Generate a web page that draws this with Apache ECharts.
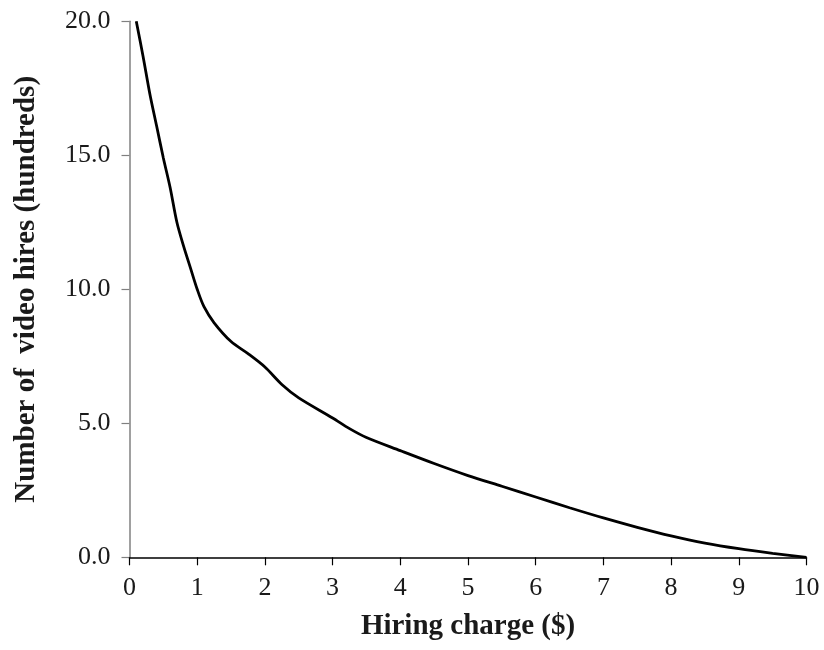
<!DOCTYPE html>
<html>
<head>
<meta charset="utf-8">
<script src="https://cdn.jsdelivr.net/npm/echarts@6/dist/echarts.min.js"></script>
<style>html,body{margin:0;padding:0;background:#fff;}#c{width:824px;height:650px;}</style>
</head>
<body>
<div id="c"></div>
<script>
// Hiring charge ($)
const charge = [0.1, 0.2, 0.3, 0.4, 0.5, 0.6, 0.7, 0.8, 0.9, 1.0, 1.1, 1.25, 1.5, 1.75, 2.0, 2.25, 2.5, 3.0, 3.25, 3.5, 4.0, 4.5, 5.0, 5.5, 6.0, 6.5, 7.0, 7.5, 8.0, 8.5, 9.0, 9.5, 10.0];
// Number of video hires (hundreds)
const hires = [20.0, 18.7, 17.3, 16.1, 14.9, 13.8, 12.5, 11.6, 10.8, 10.0, 9.35, 8.75, 8.05, 7.6, 7.1, 6.45, 5.95, 5.2, 4.8, 4.47, 3.98, 3.5, 3.05, 2.65, 2.25, 1.85, 1.47, 1.12, 0.8, 0.53, 0.32, 0.15, 0.0];
const xTitle = 'Hiring charge ($)';
const yTitle = 'Number of  video hires (hundreds)';

const chart = echarts.init(document.getElementById('c'));
const serif = '"Liberation Serif", "Times New Roman", serif';
chart.setOption({
  animation: false,
  backgroundColor: '#fff',
  grid: { left: 129.5, right: 17.5, top: 21.3, bottom: 92.7, containLabel: false },
  xAxis: {
    type: 'value', min: 0, max: 10, interval: 1,
    name: xTitle, nameLocation: 'middle', nameGap: 55,
    nameTextStyle: { fontFamily: serif, fontWeight: 'bold', fontSize: 29, color: '#1a1a1a' },
    axisLine: { show: true, onZero: false, lineStyle: { color: '#000', width: 1.5 } },
    axisTick: { show: true, length: 8, lineStyle: { color: '#000', width: 1.2 } },
    axisLabel: { fontFamily: serif, fontSize: 26, color: '#1a1a1a', margin: 18 },
    splitLine: { show: false }
  },
  yAxis: {
    type: 'value', min: 0, max: 20, interval: 5,
    name: yTitle, nameLocation: 'middle', nameGap: 88, nameRotate: 90,
    nameTextStyle: { fontFamily: serif, fontWeight: 'bold', fontSize: 29, color: '#1a1a1a' },
    axisLine: { show: true, onZero: false, lineStyle: { color: '#808080', width: 1.5 } },
    axisTick: { show: true, length: 8, lineStyle: { color: '#808080', width: 1.2 } },
    axisLabel: { fontFamily: serif, fontSize: 26, color: '#1a1a1a', margin: 19,
      formatter: v => v.toFixed(1) },
    splitLine: { show: false }
  },
  series: [{
    type: 'line',
    data: charge.map((x, i) => [x, hires[i]]),
    showSymbol: false,
    smooth: 0.3,
    lineStyle: { color: '#000', width: 2.8 },
    z: 1
  }]
});
</script>
</body>
</html>
